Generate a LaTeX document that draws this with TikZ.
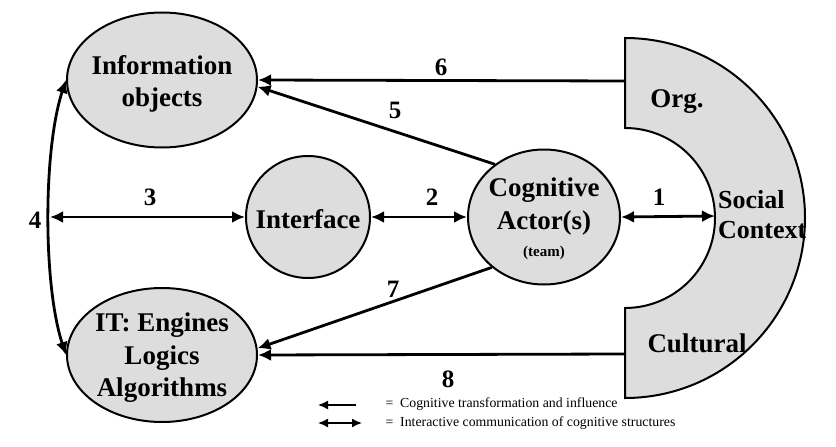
\documentclass[tikz,border=0pt]{standalone}
\usepackage{fontspec}
\setmainfont{Liberation Serif}
\usetikzlibrary{arrows.meta,shapes.geometric}
\definecolor{shade}{RGB}{221,221,221}

\begin{document}
\begin{tikzpicture}[x=1pt,y=-1pt,
  blob/.style={draw,line width=2pt,fill=shade,ellipse,inner sep=0pt},
  inside/.style={align=center,inner sep=0pt,font=\fontsize{27}{32.5}\selectfont\bfseries},
  num/.style={font=\fontsize{25}{30}\selectfont\bfseries},
  oneway/.style={line width=2.8pt,-{Latex[length=13pt,width=12pt]}},
  twoway/.style={line width=2.8pt,{Latex[length=13pt,width=12pt]}-{Latex[length=13pt,width=12pt]}},
  key/.style={font=\fontsize{13.8}{16}\selectfont,anchor=west}]
\useasboundingbox (0,0) rectangle (836,447);
% social context
\draw[line width=2pt,fill=shade] (625,38) -- (625,128) arc[start angle=-90,end angle=90,radius=90]
  -- (625,398) arc[start angle=90,end angle=-90,radius=180] -- cycle;
\node[inside] (org) at (677,102) {Org.};
\node[inside,font=\fontsize{26}{30}\selectfont\bfseries,align=left,anchor=west] (soc) at (718,215) {Social\\Context};
\node[inside] (cult) at (697,343) {Cultural};
\coordinate (orgin) at (625,81);
\coordinate (cultin) at (625,354);
\coordinate (socin) at (715,216);
% ellipses
\node[blob,minimum width=190pt,minimum height=135pt] (info) at (162,80) {};
\node[inside] at (162,84) {Information\\objects};
\node[blob,minimum width=124pt,minimum height=122pt] (int) at (308,217) {};
\node[inside] at (308,219) {Interface};
\node[blob,minimum width=152pt,minimum height=135pt] (cog) at (544,217) {};
\node[inside] at (544,219) {Cognitive\\Actor(s)\\[-5pt]{\fontsize{15}{17}\selectfont(team)}};
\node[blob,minimum width=190pt,minimum height=134pt] (it) at (162,355) {};
\node[inside] at (162,358) {IT: Engines\\Logics\\Algorithms};
\coordinate (left) at (50,217);
% connectors
\draw[oneway] (orgin) -- (info.east);
\draw[oneway] (cog.133) -- (info.-4);
\draw[oneway] (cog.224) -- (it.4);
\draw[oneway] (cultin) -- (it.east);
\draw[twoway] (left) -- (int.west);
\draw[twoway] (int.east) -- (cog.west);
\draw[twoway] (cog.east) -- (socin);
\draw[twoway] (info.west) .. controls +(-23,70) and +(-23,-70) .. (it.west);
\node[num] (n6) at (441,67) {6};
\node[num] (n5) at (395,110) {5};
\node[num] (n3) at (150,197) {3};
\node[num] (n2) at (432,197) {2};
\node[num] (n1) at (659,197) {1};
\node[num] (n4) at (35,220) {4};
\node[num] (n7) at (393,289) {7};
\node[num] (n8) at (448,379) {8};
% legend
\coordinate (k1a) at (356,405);
\coordinate (k1b) at (318,405);
\coordinate (k2a) at (318,423);
\coordinate (k2b) at (362,423);
\draw[line width=1.5pt,-{Latex[length=10pt,width=9pt]}] (k1a) -- (k1b);
\draw[line width=1.5pt,{Latex[length=10pt,width=9pt]}-{Latex[length=10pt,width=9pt]}] (k2a) -- (k2b);
\node[key] (t1) at (382,404) {=\ \ Cognitive transformation and influence};
\node[key] (t2) at (382,423) {=\ \ Interactive communication of cognitive structures};
\end{tikzpicture}
\end{document}
